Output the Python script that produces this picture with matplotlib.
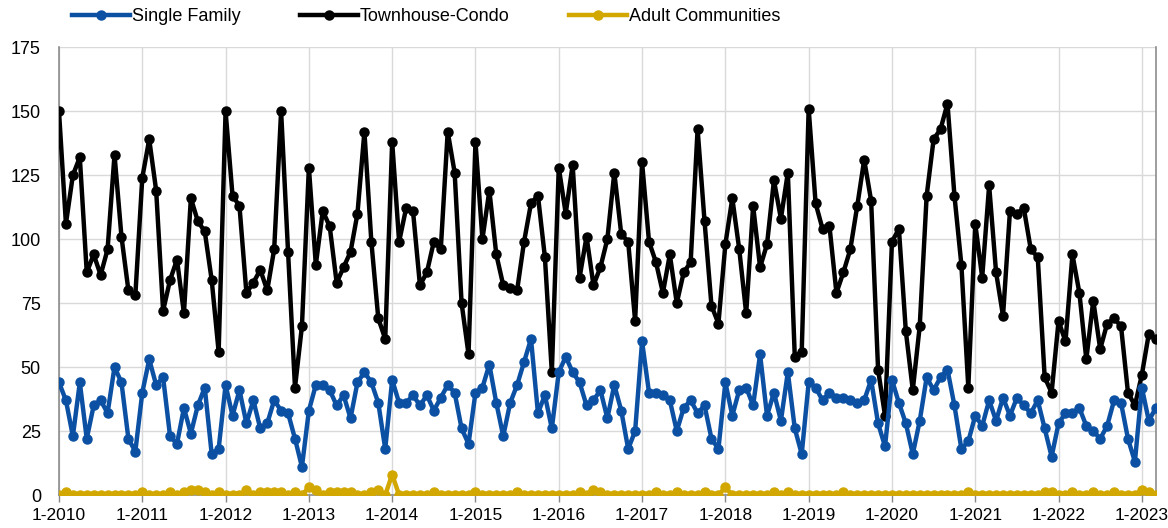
import numpy as np
import matplotlib
matplotlib.use("Agg")
import matplotlib.pyplot as plt

plt.rcParams["font.family"] = ["Liberation Sans", "DejaVu Sans"]

# monthly counts, Jan 2010 .. Mar 2023
single_family = [
    44, 37, 23, 44, 22, 35, 37, 32, 50, 44, 22, 17,
    40, 53, 43, 46, 23, 20, 34, 24, 35, 42, 16, 18,
    43, 31, 41, 28, 37, 26, 28, 37, 33, 32, 22, 11,
    33, 43, 43, 41, 35, 39, 30, 44, 48, 44, 36, 18,
    45, 36, 36, 39, 35, 39, 33, 38, 43, 40, 26, 20,
    40, 42, 51, 36, 23, 36, 43, 52, 61, 32, 39, 26,
    48, 54, 48, 44, 35, 37, 41, 30, 43, 33, 18, 25,
    60, 40, 40, 39, 37, 25, 34, 37, 32, 35, 22, 18,
    44, 31, 41, 42, 35, 55, 31, 40, 29, 48, 26, 16,
    44, 42, 37, 40, 38, 38, 37, 36, 37, 45, 28, 19,
    45, 36, 28, 16, 29, 46, 41, 46, 49, 35, 18, 21,
    31, 27, 37, 29, 38, 31, 38, 35, 32, 37, 26, 15,
    28, 32, 32, 34, 27, 25, 22, 27, 37, 36, 22, 13,
    42, 29, 34,
]
townhouse_condo = [
    150, 106, 125, 132, 87, 94, 86, 96, 133, 101, 80, 78,
    124, 139, 119, 72, 84, 92, 71, 116, 107, 103, 84, 56,
    150, 117, 113, 79, 83, 88, 80, 96, 150, 95, 42, 66,
    128, 90, 111, 105, 83, 89, 95, 110, 142, 99, 69, 61,
    138, 99, 112, 111, 82, 87, 99, 96, 142, 126, 75, 55,
    138, 100, 119, 94, 82, 81, 80, 99, 114, 117, 93, 48,
    128, 110, 129, 85, 101, 82, 89, 100, 126, 102, 99, 68,
    130, 99, 91, 79, 94, 75, 87, 91, 143, 107, 74, 67,
    98, 116, 96, 71, 113, 89, 98, 123, 108, 126, 54, 56,
    151, 114, 104, 105, 79, 87, 96, 113, 131, 115, 49, 31,
    99, 104, 64, 41, 66, 117, 139, 143, 153, 117, 90, 42,
    106, 85, 121, 87, 70, 111, 110, 112, 96, 93, 46, 40,
    68, 60, 94, 79, 53, 76, 57, 67, 69, 66, 40, 35,
    47, 63, 61,
]
adult_communities = [
    0, 1, 0, 0, 0, 0, 0, 0, 0, 0, 0, 0,
    1, 0, 0, 0, 1, 0, 1, 2, 2, 1, 0, 1,
    0, 0, 0, 2, 0, 1, 1, 1, 1, 0, 1, 0,
    3, 2, 0, 1, 1, 1, 1, 0, 0, 1, 2, 0,
    8, 0, 0, 0, 0, 0, 1, 0, 0, 0, 0, 0,
    1, 0, 0, 0, 0, 0, 1, 0, 0, 0, 0, 0,
    0, 0, 0, 1, 0, 2, 1, 0, 0, 0, 0, 0,
    0, 0, 1, 0, 0, 1, 0, 0, 0, 1, 0, 0,
    3, 0, 0, 0, 0, 0, 0, 1, 0, 1, 0, 0,
    0, 0, 0, 0, 0, 1, 0, 0, 0, 0, 0, 0,
    0, 0, 0, 0, 0, 0, 0, 0, 0, 0, 0, 1,
    0, 0, 0, 0, 0, 0, 0, 0, 0, 0, 1, 1,
    0, 0, 1, 0, 0, 1, 0, 0, 1, 0, 0, 0,
    2, 1, 0,
]
years = list(range(2010, 2024))
tick_labels = [f"1-{y}" for y in years]

BLUE = "#0B50A3"
BLACK = "#000000"
GOLD = "#D1A700"

months = np.arange(len(townhouse_condo))

fig = plt.figure(figsize=(11.68, 5.28), dpi=100)
ax = fig.add_axes([0.0505, 0.0625, 0.939, 0.848])

kw = dict(lw=3.2, marker="o", ms=6.5, solid_joinstyle="round")
ax.plot(months, single_family, color=BLUE, label="Single Family", zorder=4, **kw)
ax.plot(months, townhouse_condo, color=BLACK, label="Townhouse-Condo", zorder=3, **kw)
ax.plot(months, adult_communities, color=GOLD, label="Adult Communities", zorder=5, **kw)

ax.set_xlim(0, len(months) - 1)
ax.set_ylim(0, 175)
ax.set_yticks(np.arange(0, 176, 25))
ax.set_xticks(np.arange(0, len(months), 12))
ax.set_xticklabels(tick_labels)
ax.tick_params(axis="both", labelsize=13, colors="#000000")
ax.tick_params(axis="x", labelsize=12.5)
ax.tick_params(axis="y", length=0, pad=13)
ax.tick_params(axis="x", length=5, width=1, color="#888888", pad=4)

ax.grid(True, color="#D9D9D9", lw=1)
ax.set_axisbelow(True)
for side in ["left", "bottom", "right"]:
    ax.spines[side].set_color("#8C8C8C")
    ax.spines[side].set_linewidth(1.2)
ax.spines["top"].set_visible(False)

fig.legend(loc="center", bbox_to_anchor=(0.365, 0.968), ncol=3, frameon=False,
           fontsize=13, handlelength=3.2, handletextpad=0.1, columnspacing=3.3)

fig.savefig("out.png", dpi=100)
